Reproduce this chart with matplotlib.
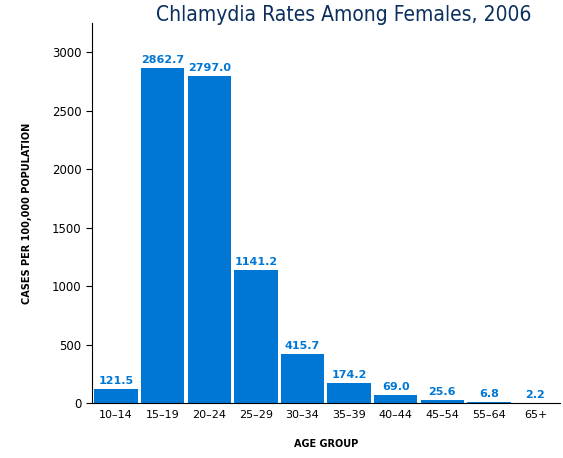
import matplotlib.pyplot as plt

ages = ["10–14", "15–19", "20–24", "25–29", "30–34", "35–39", "40–44", "45–54", "55–64", "65+"]
rates = [121.5, 2862.7, 2797.0, 1141.2, 415.7, 174.2, 69.0, 25.6, 6.8, 2.2]

BLUE = "#0077d4"
fig = plt.figure(figsize=(5.63, 4.58), dpi=100)
ax = fig.add_axes([0.163, 0.12, 0.832, 0.83])

x = range(len(ages))
ax.bar(x, rates, width=0.93, color=BLUE)
for i, v in enumerate(rates):
    ax.text(i, v + 25, f"{v:.1f}", ha="center", va="bottom", color=BLUE,
            fontsize=8, fontweight="bold")

ax.set_xlim(-0.52, 9.53)
ax.set_ylim(0, 3250)
ax.set_yticks(range(0, 3001, 500))
ax.set_xticks(list(x))
ax.set_xticklabels(ages, fontsize=8)
ax.tick_params(axis="y", labelsize=8.5, length=4)
ax.tick_params(axis="x", length=0, pad=5)
ax.spines["top"].set_visible(False)
ax.spines["right"].set_visible(False)

ax.set_ylabel("CASES PER 100,000 POPULATION", fontsize=7, fontweight="bold", labelpad=14)
ax.set_xlabel("AGE GROUP", fontsize=7, fontweight="bold", labelpad=14)
ax.yaxis.label.set_fontstretch("expanded")
fig.text(0.61, 0.955, "Chlamydia Rates Among Females, 2006", ha="center",
         fontsize=15, color="#0b2f5e", fontstretch="condensed")

fig.savefig("out.png", dpi=100)
